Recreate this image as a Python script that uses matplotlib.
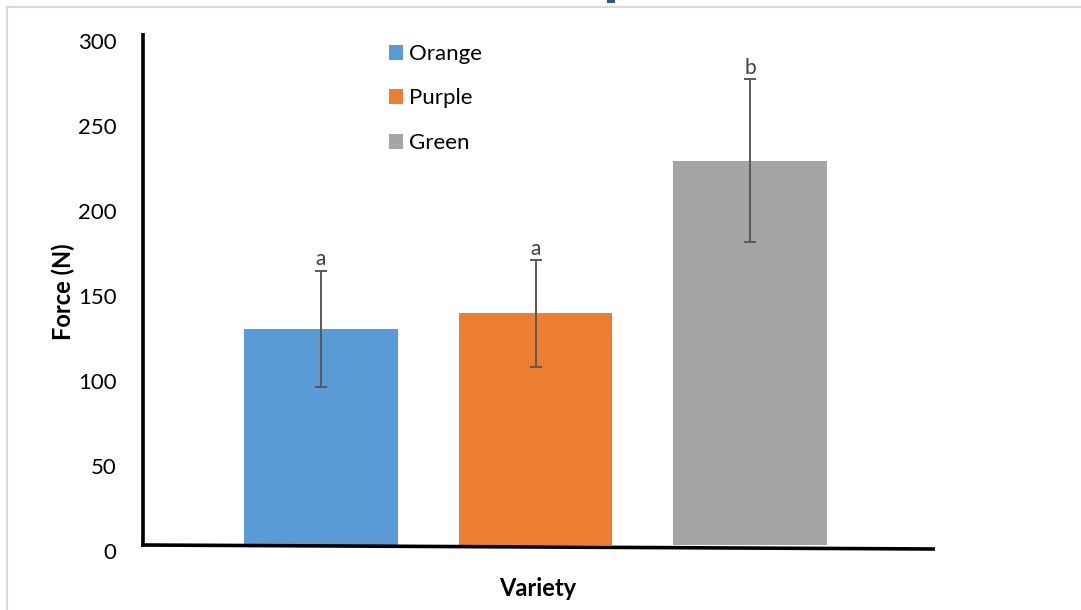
import matplotlib
matplotlib.use("Agg")
import matplotlib.pyplot as plt
import matplotlib.transforms as mtransforms
from matplotlib.patches import Patch, Rectangle
from matplotlib.lines import Line2D

# Data
varieties = ["Orange", "Purple", "Green"]
force_mean = [127, 136.3, 226]
force_err = [34.3, 31.4, 48]
group_letters = ["a", "a", "b"]
y_ticks = [0, 50, 100, 150, 200, 250, 300]

colors = ["#5B9BD5", "#ED7D31", "#A5A5A5"]
FONT = "Lato"
W, H = 1081, 610

fig = plt.figure(figsize=(W / 100, H / 100), dpi=100)
fig.patch.set_facecolor("white")


def fx(px):
    return px / W


def fy(py):
    return 1 - py / H


# Axes box: x from 143 px to 935 px, y from 35 px (300) to 545 px (0)
ax = fig.add_axes([fx(143), fy(545), fx(935) - fx(143), fy(35) - fy(545)])
ax.set_xlim(-0.830, 2.862)
ax.set_ylim(0, 300)

x = list(range(len(varieties)))
bars = ax.bar(x, force_mean, width=0.715, color=colors, zorder=2)
ax.errorbar(x, force_mean, yerr=force_err, fmt="none", ecolor="#595959",
            elinewidth=1.4, capsize=4.3, capthick=1.4, zorder=3)

for xi, m, e, lab in zip(x, force_mean, force_err, group_letters):
    ax.annotate(lab, (xi, m + e), xytext=(0, 1), textcoords="offset points",
                ha="center", va="bottom", fontsize=15, color="#404040",
                family=FONT)

for s in ax.spines.values():
    s.set_visible(False)
ax.set_xticks([])
ax.set_yticks(y_ticks)
ax.tick_params(axis="y", length=0, pad=19, labelsize=16)
offset = mtransforms.ScaledTranslation(0, -0.06, fig.dpi_scale_trans)
for t in ax.get_yticklabels():
    t.set_fontfamily(FONT)
    t.set_color("#000000")
    t.set_transform(t.get_transform() + offset)

fig.text(fx(63), fy(292), "Force (N)", ha="center", va="center",
         rotation=90, fontsize=17, fontweight="bold", family=FONT)
fig.text(fx(538), fy(588), "Variety", ha="center", va="center",
         fontsize=17, fontweight="bold", family=FONT)

# Axis lines
fig.add_artist(Line2D([fx(143), fx(143)], [fy(33), fy(547)], color="black",
                      lw=2.6, solid_capstyle="butt"))
fig.add_artist(Line2D([fx(141), fx(935)], [fy(545), fy(549)], color="black",
                      lw=2.6, solid_capstyle="butt"))

# Legend
handles = [Patch(facecolor=c, edgecolor="none") for c in colors]
ax.legend(handles, varieties, loc="upper left",
          bbox_to_anchor=(fx(389), fy(44)), bbox_transform=fig.transFigure,
          frameon=False, prop={"family": FONT, "size": 16},
          handlelength=0.65, handleheight=0.65, handletextpad=0.25,
          labelspacing=1.1, borderaxespad=0, borderpad=0)

# Page frame and header fragment
fig.add_artist(Line2D([fx(6.5), fx(W)], [fy(6.5), fy(6.5)], color="#d9d9d9", lw=1.6))
fig.add_artist(Line2D([fx(6.5), fx(6.5)], [fy(6.5), fy(H)], color="#d9d9d9", lw=1.6))
fig.add_artist(Rectangle((fx(607), fy(3)), fx(8), fy(0) - fy(3),
                         transform=fig.transFigure, color="#2F5597", lw=0))

fig.savefig("out.png", dpi=100)
